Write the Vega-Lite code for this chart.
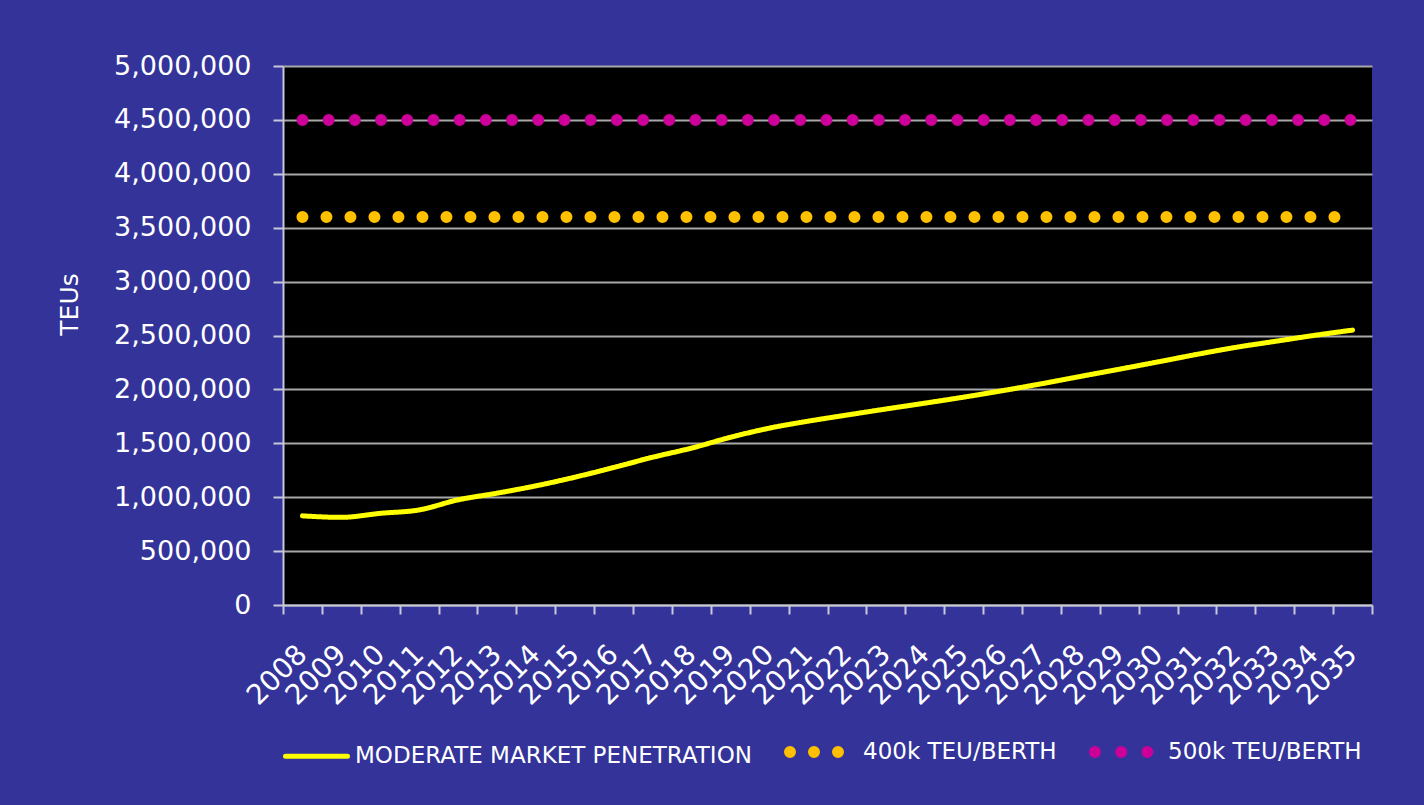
{
  "$schema": "https://vega.github.io/schema/vega-lite/v6.json",
  "autosize": {"type": "none"},
  "width": 1089,
  "height": 539,
  "padding": {"left": 283, "top": 66, "right": 52, "bottom": 200},
  "background": "#333399",
  "config": {
    "view": {"fill": "#000000", "stroke": null},
    "font": "DejaVu Sans",
    "axis": {
      "labelColor": "#ffffff",
      "titleColor": "#ffffff",
      "domainColor": "#c8c8d8",
      "domainWidth": 2,
      "tickColor": "#c8c8d8",
      "tickWidth": 2,
      "labelFont": "DejaVu Sans",
      "titleFont": "DejaVu Sans",
      "titleFontWeight": "normal"
    },
    "legend": {"labelColor": "#ffffff", "labelFont": "DejaVu Sans"}
  },
  "data": {
    "values": [
      {"year": "2008", "series": "MODERATE MARKET PENETRATION", "teus": 827000},
      {"year": "2009", "series": "MODERATE MARKET PENETRATION", "teus": 813000},
      {"year": "2010", "series": "MODERATE MARKET PENETRATION", "teus": 850000},
      {"year": "2011", "series": "MODERATE MARKET PENETRATION", "teus": 882000},
      {"year": "2012", "series": "MODERATE MARKET PENETRATION", "teus": 975000},
      {"year": "2013", "series": "MODERATE MARKET PENETRATION", "teus": 1037000},
      {"year": "2014", "series": "MODERATE MARKET PENETRATION", "teus": 1105000},
      {"year": "2015", "series": "MODERATE MARKET PENETRATION", "teus": 1185000},
      {"year": "2016", "series": "MODERATE MARKET PENETRATION", "teus": 1275000},
      {"year": "2017", "series": "MODERATE MARKET PENETRATION", "teus": 1370000},
      {"year": "2018", "series": "MODERATE MARKET PENETRATION", "teus": 1455000},
      {"year": "2019", "series": "MODERATE MARKET PENETRATION", "teus": 1555000},
      {"year": "2020", "series": "MODERATE MARKET PENETRATION", "teus": 1640000},
      {"year": "2021", "series": "MODERATE MARKET PENETRATION", "teus": 1705000},
      {"year": "2022", "series": "MODERATE MARKET PENETRATION", "teus": 1762000},
      {"year": "2023", "series": "MODERATE MARKET PENETRATION", "teus": 1818000},
      {"year": "2024", "series": "MODERATE MARKET PENETRATION", "teus": 1872000},
      {"year": "2025", "series": "MODERATE MARKET PENETRATION", "teus": 1928000},
      {"year": "2026", "series": "MODERATE MARKET PENETRATION", "teus": 1988000},
      {"year": "2027", "series": "MODERATE MARKET PENETRATION", "teus": 2052000},
      {"year": "2028", "series": "MODERATE MARKET PENETRATION", "teus": 2120000},
      {"year": "2029", "series": "MODERATE MARKET PENETRATION", "teus": 2187000},
      {"year": "2030", "series": "MODERATE MARKET PENETRATION", "teus": 2255000},
      {"year": "2031", "series": "MODERATE MARKET PENETRATION", "teus": 2325000},
      {"year": "2032", "series": "MODERATE MARKET PENETRATION", "teus": 2390000},
      {"year": "2033", "series": "MODERATE MARKET PENETRATION", "teus": 2445000},
      {"year": "2034", "series": "MODERATE MARKET PENETRATION", "teus": 2500000},
      {"year": "2035", "series": "MODERATE MARKET PENETRATION", "teus": 2550000},
      {"year": "2008", "series": "400k TEU/BERTH", "teus": 3600000},
      {"year": "2009", "series": "400k TEU/BERTH", "teus": 3600000},
      {"year": "2010", "series": "400k TEU/BERTH", "teus": 3600000},
      {"year": "2011", "series": "400k TEU/BERTH", "teus": 3600000},
      {"year": "2012", "series": "400k TEU/BERTH", "teus": 3600000},
      {"year": "2013", "series": "400k TEU/BERTH", "teus": 3600000},
      {"year": "2014", "series": "400k TEU/BERTH", "teus": 3600000},
      {"year": "2015", "series": "400k TEU/BERTH", "teus": 3600000},
      {"year": "2016", "series": "400k TEU/BERTH", "teus": 3600000},
      {"year": "2017", "series": "400k TEU/BERTH", "teus": 3600000},
      {"year": "2018", "series": "400k TEU/BERTH", "teus": 3600000},
      {"year": "2019", "series": "400k TEU/BERTH", "teus": 3600000},
      {"year": "2020", "series": "400k TEU/BERTH", "teus": 3600000},
      {"year": "2021", "series": "400k TEU/BERTH", "teus": 3600000},
      {"year": "2022", "series": "400k TEU/BERTH", "teus": 3600000},
      {"year": "2023", "series": "400k TEU/BERTH", "teus": 3600000},
      {"year": "2024", "series": "400k TEU/BERTH", "teus": 3600000},
      {"year": "2025", "series": "400k TEU/BERTH", "teus": 3600000},
      {"year": "2026", "series": "400k TEU/BERTH", "teus": 3600000},
      {"year": "2027", "series": "400k TEU/BERTH", "teus": 3600000},
      {"year": "2028", "series": "400k TEU/BERTH", "teus": 3600000},
      {"year": "2029", "series": "400k TEU/BERTH", "teus": 3600000},
      {"year": "2030", "series": "400k TEU/BERTH", "teus": 3600000},
      {"year": "2031", "series": "400k TEU/BERTH", "teus": 3600000},
      {"year": "2032", "series": "400k TEU/BERTH", "teus": 3600000},
      {"year": "2033", "series": "400k TEU/BERTH", "teus": 3600000},
      {"year": "2034", "series": "400k TEU/BERTH", "teus": 3600000},
      {"year": "2035", "series": "400k TEU/BERTH", "teus": 3600000},
      {"year": "2008", "series": "500k TEU/BERTH", "teus": 4500000},
      {"year": "2009", "series": "500k TEU/BERTH", "teus": 4500000},
      {"year": "2010", "series": "500k TEU/BERTH", "teus": 4500000},
      {"year": "2011", "series": "500k TEU/BERTH", "teus": 4500000},
      {"year": "2012", "series": "500k TEU/BERTH", "teus": 4500000},
      {"year": "2013", "series": "500k TEU/BERTH", "teus": 4500000},
      {"year": "2014", "series": "500k TEU/BERTH", "teus": 4500000},
      {"year": "2015", "series": "500k TEU/BERTH", "teus": 4500000},
      {"year": "2016", "series": "500k TEU/BERTH", "teus": 4500000},
      {"year": "2017", "series": "500k TEU/BERTH", "teus": 4500000},
      {"year": "2018", "series": "500k TEU/BERTH", "teus": 4500000},
      {"year": "2019", "series": "500k TEU/BERTH", "teus": 4500000},
      {"year": "2020", "series": "500k TEU/BERTH", "teus": 4500000},
      {"year": "2021", "series": "500k TEU/BERTH", "teus": 4500000},
      {"year": "2022", "series": "500k TEU/BERTH", "teus": 4500000},
      {"year": "2023", "series": "500k TEU/BERTH", "teus": 4500000},
      {"year": "2024", "series": "500k TEU/BERTH", "teus": 4500000},
      {"year": "2025", "series": "500k TEU/BERTH", "teus": 4500000},
      {"year": "2026", "series": "500k TEU/BERTH", "teus": 4500000},
      {"year": "2027", "series": "500k TEU/BERTH", "teus": 4500000},
      {"year": "2028", "series": "500k TEU/BERTH", "teus": 4500000},
      {"year": "2029", "series": "500k TEU/BERTH", "teus": 4500000},
      {"year": "2030", "series": "500k TEU/BERTH", "teus": 4500000},
      {"year": "2031", "series": "500k TEU/BERTH", "teus": 4500000},
      {"year": "2032", "series": "500k TEU/BERTH", "teus": 4500000},
      {"year": "2033", "series": "500k TEU/BERTH", "teus": 4500000},
      {"year": "2034", "series": "500k TEU/BERTH", "teus": 4500000},
      {"year": "2035", "series": "500k TEU/BERTH", "teus": 4500000}
    ]
  },
  "mark": {"type": "line", "interpolate": "monotone", "strokeCap": "round", "strokeJoin": "round"},
  "encoding": {
    "x": {
      "field": "year",
      "type": "ordinal",
      "bandPosition": 0.5,
      "scale": {"type": "band", "paddingInner": 0, "paddingOuter": 0},
      "axis": {
        "title": null,
        "tickBand": "extent",
        "tickSize": 9,
        "labelAngle": -45,
        "labelAlign": "right",
        "labelBaseline": "middle",
        "labelFontSize": 28,
        "labelPadding": 36,
        "labelOverlap": false,
        "grid": false
      }
    },
    "y": {
      "field": "teus",
      "type": "quantitative",
      "scale": {"domain": [0, 5000000], "nice": false},
      "axis": {
        "title": "TEUs",
        "titleFontSize": 25,
        "titleX": -201,
        "titleY": 238,
        "titleAlign": "center",
        "values": [0, 500000, 1000000, 1500000, 2000000, 2500000, 3000000, 3500000, 4000000, 4500000, 5000000],
        "format": ",.0f",
        "labelFontSize": 27,
        "labelPadding": 22,
        "tickSize": 10,
        "grid": true,
        "gridColor": "#a8a8a8",
        "gridWidth": 2
      }
    },
    "color": {
      "field": "series",
      "type": "nominal",
      "scale": {
        "domain": ["MODERATE MARKET PENETRATION", "400k TEU/BERTH", "500k TEU/BERTH"],
        "range": ["#ffff00", "#ffc000", "#cc0099"]
      },
      "legend": {
        "title": null,
        "orient": "none",
        "direction": "horizontal",
        "legendX": 0,
        "legendY": 649,
        "symbolType": "stroke",
        "symbolSize": 3844,
        "labelFontSize": 23,
        "labelOffset": 5,
        "columnPadding": 14,
        "labelLimit": 600,
        "encode": {"symbols": {"update": {"strokeCap": {"value": "round"}}}}
      }
    },
    "strokeDash": {
      "field": "series",
      "type": "nominal",
      "scale": {
        "domain": ["MODERATE MARKET PENETRATION", "400k TEU/BERTH", "500k TEU/BERTH"],
        "range": [[1, 0], [0, 24], [0, 26.2]]
      },
      "legend": null
    },
    "strokeWidth": {
      "field": "series",
      "type": "nominal",
      "scale": {
        "type": "ordinal",
        "domain": ["MODERATE MARKET PENETRATION", "400k TEU/BERTH", "500k TEU/BERTH"],
        "range": [5, 12, 12]
      },
      "legend": null
    }
  }
}
